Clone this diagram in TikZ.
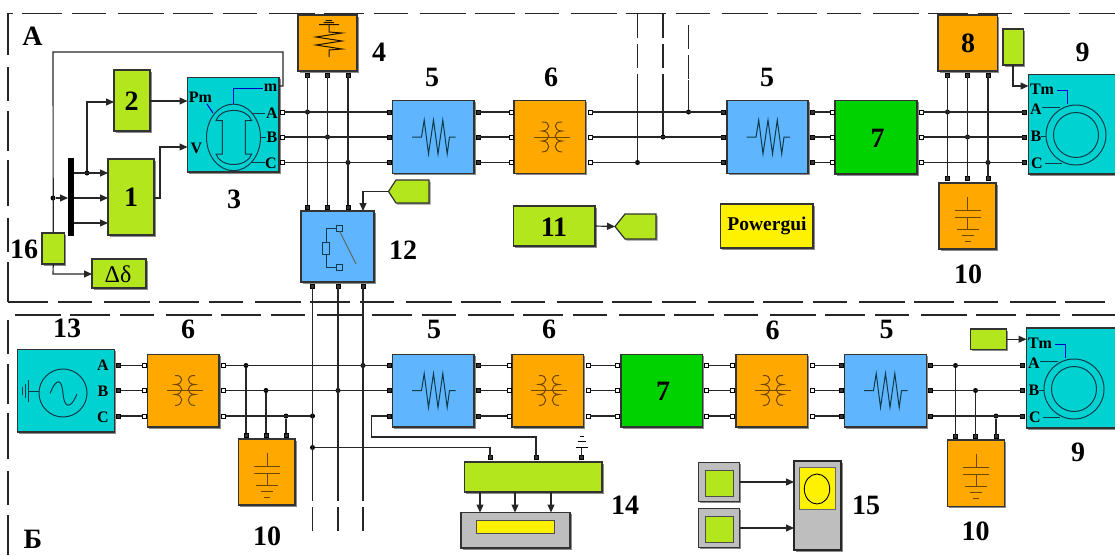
\documentclass[tikz,border=0pt]{standalone}
\usepackage{fontspec}
\setmainfont{Liberation Serif}
\usetikzlibrary{arrows.meta,shadows}
\definecolor{cCyan}{HTML}{00D2D2}
\definecolor{cLime}{HTML}{B4E61E}
\definecolor{cOrange}{HTML}{FFA800}
\definecolor{cBlue}{HTML}{5FB6FF}
\definecolor{cGreen}{HTML}{00D200}
\definecolor{cYellow}{HTML}{FFF200}
\definecolor{cGray}{HTML}{BEBEBE}
\definecolor{cIcon}{HTML}{0E3A4A}
\definecolor{cBrown}{HTML}{6E4600}
\definecolor{cWire}{HTML}{262626}
\tikzset{
  shad/.style={drop shadow={shadow xshift=1.5pt,shadow yshift=-1.5pt,fill=black,opacity=.45}},
  blockst/.style={rectangle,draw=black!80,line width=1.2pt,inner sep=0pt,outer sep=0pt,shad},
  port/.style={rectangle,draw=black,fill=white,line width=1pt,minimum size=4pt,inner sep=0pt,outer sep=0pt},
  bport/.style={rectangle,draw=black,fill=black!80,line width=1pt,minimum size=4pt,inner sep=0pt,outer sep=0pt},
  junct/.style={circle,fill=black,minimum size=5pt,inner sep=0pt,outer sep=0pt},
  wire/.style={draw=cWire,line width=1.15pt},
  awire/.style={wire,-{Triangle[length=8pt,width=7pt]}},
  frameline/.style={draw=black!85,line width=1.1pt,dash pattern=on 40pt off 10pt on 34pt off 12pt on 46pt off 9pt},
  dashwire/.style={wire,dash pattern=on 24pt off 6pt},
  icon/.style={draw=cIcon,line width=1pt},
  brown/.style={draw=cBrown,line width=1pt},
  lab/.style={font=\fontsize{28}{28}\selectfont\bfseries,text=black,inner sep=0pt},
  pin/.style={font=\fontsize{16}{16}\selectfont\bfseries,text=black,inner sep=0pt},
}
\newcommand{\blk}[6]{\node[blockst,fill=#6,minimum width={(#4-#2)*1pt},minimum height={(#5-#3)*1pt}] (#1) at ({(#2+#4)/2},{(#3+#5)/2}) {};}
\newcommand{\prt}[4]{\node[#1] (#2) at (#3,#4) {};}
\newcommand{\rowA}[3]{\prt{#1}{#21}{#3}{112}\prt{#1}{#22}{#3}{137}\prt{#1}{#23}{#3}{162.5}}
\newcommand{\rowB}[3]{\prt{#1}{#21}{#3}{365.5}\prt{#1}{#22}{#3}{390.5}\prt{#1}{#23}{#3}{416}}
\newcommand{\colports}[6]{\prt{#1}{#21}{#4}{#3}\prt{#1}{#22}{#5}{#3}\prt{#1}{#23}{#6}{#3}}
\newcommand{\iconres}[2]{\draw[icon,line join=miter] (#1-21.5,#2)--(#1-12,#2)--(#1-9.3,#2-17)--(#1-5,#2+17)--(#1,#2-17)--(#1+4.5,#2+17)--(#1+9.3,#2-17)--(#1+13.7,#2+17)--(#1+16,#2)--(#1+22,#2);}
\newcommand{\icontrf}[2]{\begin{scope}[shift={(#1,#2)}]
  \draw[brown] (-18,0)--(18,0);
  \draw[brown] (-10,-15) .. controls (-1,-16) and (-1,-6) .. (-10,-6) .. controls (-1,-6) and (-1,4) .. (-10,4) .. controls (-1,4) and (-1,15) .. (-10,15);
  \draw[brown] (10,-15) .. controls (1,-16) and (1,-6) .. (10,-6) .. controls (1,-6) and (1,4) .. (10,4) .. controls (1,4) and (1,15) .. (10,15);
\end{scope}}
\newcommand{\iconcap}[2]{\begin{scope}[shift={(#1,#2)}]
  \draw[brown] (0,14)--(0,27) (-13,27)--(13,27) (-13,34)--(13,34) (0,34)--(0,46) (-11,46)--(11,46) (-6,52)--(6,52) (-3,58)--(3,58);
\end{scope}}
\newcommand{\machine}[3]{\begin{scope}[shift={(#1,#2)}]
  \draw[icon] (0,0) circle (30pt);
  \draw[icon] (0,0) circle (22.5pt);
  \draw[blue!80!black,line width=1pt] (-19,-45)--(-8.5,-45)--(-8.5,-31);
  \draw[icon] (-34,-28)--(-16,-28) (-35,1)--(-30,1) (-31,28)--(-14,28);
  \node[pin] (#3tm) at (-34,-46) {Tm};
  \node[pin] (#3a) at (-40,-26) {A};
  \node[pin] (#3b) at (-40,1) {B};
  \node[pin] (#3c) at (-39,28) {C};
\end{scope}}
\begin{document}
\begin{tikzpicture}[x=1pt,y=-1pt]
\useasboundingbox (0,0) rectangle (1115,555);
% frames
\draw[frameline] (8,302)--(8,13.5)--(1115,13.5);
\draw[frameline] (8,302)--(1115,302);
\draw[frameline] (8,555)--(8,315)--(1115,315);
% ---------- blocks A
\blk{b2}{114}{70}{150}{131}{cLime}
\blk{b1}{108}{159}{154}{235}{cLime}
\node[rectangle,fill=black,minimum width=6pt,minimum height=78pt,inner sep=0pt] (bus) at (71,197) {};
\blk{b16}{42}{233}{64.5}{264}{cLime}
\blk{bdd}{92}{259}{146}{288}{cLime}
\blk{b3}{187.5}{77.5}{279}{172}{cCyan}
\blk{b4}{298}{15}{357}{71}{cOrange}
\blk{b12}{301}{211}{374}{282}{cBlue}
\blk{b5a}{392.5}{100.5}{474}{173.5}{cBlue}
\blk{b6a}{514}{100.5}{585.5}{173.5}{cOrange}
\blk{b5b}{727}{100.5}{808}{173.5}{cBlue}
\blk{b7a}{835}{100.5}{917}{174}{cGreen}
\blk{b8}{938}{15}{997.5}{71}{cOrange}
\blk{b8s}{1003}{29}{1023.5}{65}{cLime}
\blk{b9a}{1028.5}{74.5}{1120}{174}{cCyan}
\blk{b10a}{939}{183}{996}{249}{cOrange}
\blk{b11}{513.5}{206}{595}{246}{cLime}
\blk{bpg}{720.5}{204}{813}{248}{cYellow}
% tags
\draw[draw=black!80,fill=cLime,line width=1.2pt,shad] (388.5,191.5)--(396,180)--(429,180)--(429,203)--(396,203)--cycle;
\coordinate (tagA) at (388.5,191.5);
\draw[draw=black!80,fill=cLime,line width=1.2pt,shad] (615,226.5)--(625,214)--(656,214)--(656,239)--(625,239)--cycle;
\coordinate (tagB) at (615,226.5);
% ---------- blocks Б
\blk{b13}{17.5}{349.5}{114.5}{432}{cCyan}
\blk{b6b}{147.5}{354.5}{219}{427}{cOrange}
\blk{b10b}{238.5}{439}{295}{505}{cOrange}
\blk{b5c}{392.5}{354.5}{474}{427}{cBlue}
\blk{b6c}{512}{354.5}{583.5}{427}{cOrange}
\blk{b7b}{621}{354.5}{702.5}{427}{cGreen}
\blk{b6d}{736}{354.5}{807.5}{427}{cOrange}
\blk{b5d}{844.5}{354.5}{926.5}{427}{cBlue}
\blk{b9b}{1026.5}{328}{1120}{428}{cCyan}
\blk{b10c}{947.5}{440}{1004.5}{506.5}{cOrange}
\blk{b9s}{970.5}{329}{1006.5}{349.5}{cLime}
\blk{b14}{464.5}{462}{602}{492}{cLime}
\blk{b14g}{461}{512.5}{570}{548}{cGray}
\node[rectangle,draw=black!70,fill=cYellow,line width=1pt,minimum width=77.5pt,minimum height=13.5pt,inner sep=0pt] (b14y) at (515.7,527.2) {};
\node[blockst,fill=cGray,draw=black!85,line width=1.8pt,minimum width=47pt,minimum height=89pt] (sc) at (817.5,505.5) {};
\node[rectangle,draw=black!60,fill=cYellow,line width=1pt,minimum width=36pt,minimum height=41.5pt,inner sep=0pt] (scy) at (817,488.7) {};
\draw[black,line width=.9pt] (817,489) ellipse (12.7pt and 15pt);
\blk{c1}{698.5}{462.5}{739.5}{501.5}{cGray}
\node[rectangle,draw=black!70,fill=cLime,line width=1pt,minimum width=28.5pt,minimum height=26pt,inner sep=0pt] (c1i) at (719.7,483) {};
\blk{c2}{698.5}{508.5}{739.5}{547.5}{cGray}
\node[rectangle,draw=black!70,fill=cLime,line width=1pt,minimum width=28.5pt,minimum height=26pt,inner sep=0pt] (c2i) at (719.7,529) {};
% ---------- ports A
\rowA{port}{p3}{282}
\colports{bport}{p4}{75}{307.5}{327.5}{348}
\colports{bport}{p12t}{207}{307.5}{327.5}{348}
\colports{bport}{p12b}{286}{312.5}{338}{363}
\rowA{bport}{p5al}{389}
\rowA{bport}{p5ar}{478}
\rowA{port}{p6al}{511}
\rowA{port}{p6ar}{590}
\rowA{bport}{p5bl}{723.5}
\rowA{bport}{p5br}{812}
\rowA{port}{p7al}{832}
\rowA{port}{p7ar}{921}
\colports{bport}{p8}{75}{947.5}{967.5}{988}
\colports{bport}{p10a}{178.5}{947.5}{967.5}{988}
\rowA{bport}{p9a}{1024.5}
% ---------- ports Б
\rowB{bport}{p13}{118.5}
\rowB{port}{p6bl}{144}
\rowB{port}{p6br}{223.5}
\colports{bport}{p10b}{435}{246}{266}{286}
\rowB{bport}{p5cl}{389}
\rowB{bport}{p5cr}{478}
\rowB{port}{p6cl}{509}
\rowB{port}{p6cr}{588}
\rowB{port}{p7bl}{617.5}
\rowB{port}{p7br}{706.5}
\rowB{port}{p6dl}{732.5}
\rowB{port}{p6dr}{812}
\rowB{bport}{p5dl}{841}
\rowB{bport}{p5dr}{930.5}
\rowB{bport}{p9b}{1022.5}
\colports{bport}{p10c}{436.5}{955.5}{975.5}{996}
\colports{bport}{p14}{457.5}{490}{536}{581.5}
% ---------- junctions
\node[junct] (j1) at (53,198) {};
\node[junct] (j2) at (87,173) {};
\node[junct] (ja1) at (307.5,112) {};
\node[junct] (ja2) at (327.5,137) {};
\node[junct] (ja3) at (348,162.5) {};
\node[junct] (jd3) at (637.5,162.5) {};
\node[junct] (jd2) at (663,137) {};
\node[junct] (jd1) at (688.5,112) {};
\node[junct] (jr1) at (947.5,112) {};
\node[junct] (jr2) at (967.5,137) {};
\node[junct] (jr3) at (988,162.5) {};
\node[junct] (jb1) at (246,365.5) {};
\node[junct] (jb2) at (266,390.5) {};
\node[junct] (jb3) at (286,416) {};
\node[junct] (jb4) at (312.5,416) {};
\node[junct] (jb5) at (312.5,447.5) {};
\node[junct] (jb6) at (338,390.5) {};
\node[junct] (jb7) at (363,365.5) {};
\node[junct] (jc1) at (955.5,365.5) {};
\node[junct] (jc2) at (975.5,390.5) {};
\node[junct] (jc3) at (996,416) {};
% ---------- bend points
\coordinate (m1) at (279,86);\coordinate (m2) at (283,86);\coordinate (m3) at (283,52);\coordinate (m4) at (53,52);
\coordinate (bus1) at (74,173);\coordinate (bus2) at (74,198);\coordinate (bus3) at (74,223);
\coordinate (busin) at (68,198);
\coordinate (u1) at (87,102);
\coordinate (in2) at (114,102);
\coordinate (out2) at (150,101);\coordinate (in3p) at (187.5,101);
\coordinate (o1) at (154,198);\coordinate (o1a) at (160,198);\coordinate (o1b) at (160,147);\coordinate (in3v) at (187.5,147);
\coordinate (d16) at (53,274);\coordinate (in16) at (92,274);
\coordinate (t12) at (363,191.5);\coordinate (t12e) at (363,211);
\coordinate (t8a) at (1013,65);\coordinate (t8b) at (1013,86);\coordinate (t8c) at (1028.5,86);
\coordinate (v1a) at (312.5,477);\coordinate (v1b) at (312.5,536);
\coordinate (v2a) at (338,477);\coordinate (v2b) at (338,533);
\coordinate (v3a) at (363,477);\coordinate (v3b) at (363,534);
\coordinate (d1t) at (637.5,14);\coordinate (d1m) at (637.5,80);
\coordinate (d2t) at (663,14);\coordinate (d2m) at (663,80);
\coordinate (d3t) at (688.5,25);\coordinate (d3m) at (688.5,80);
\coordinate (w1) at (371.5,416);\coordinate (w2) at (371.5,437);\coordinate (w3) at (536,437);
\coordinate (w4) at (490,447.5);
\coordinate (g1) at (581.5,447);
% ---------- wires
\draw[wire] (m1)--(m2)--(m3)--(m4)--(b16.north);
\draw[awire] (j1)--(busin);
\draw[awire] (bus1)--(bus1-|b1.west);
\draw[awire] (bus2)--(bus2-|b1.west);
\draw[awire] (bus3)--(bus3-|b1.west);
\draw[awire] (j2)--(u1)--(in2);
\draw[awire] (out2)--(in3p);
\draw[awire] (o1)--(o1a)--(o1b)--(in3v);
\draw[awire] (b16.south)--(d16)--(in16);
\foreach \i in {1,2,3}{
  \draw[wire] (p3\i)--(p5al\i);
  \draw[wire] (p5ar\i)--(p6al\i);
  \draw[wire] (p6ar\i)--(p5bl\i);
  \draw[wire] (p5br\i)--(p7al\i);
  \draw[wire] (p7ar\i)--(p9a\i);
  \draw[wire] (p4\i)--(p12t\i);
  \draw[wire] (p8\i)--(p10a\i);
  \draw[wire] (p13\i)--(p6bl\i);
  \draw[wire] (p5cr\i)--(p6cl\i);
  \draw[wire] (p6cr\i)--(p7bl\i);
  \draw[wire] (p7br\i)--(p6dl\i);
  \draw[wire] (p6dr\i)--(p5dl\i);
  \draw[wire] (p5dr\i)--(p9b\i);
}
\draw[awire] (tagA)--(t12)--(t12e);
\draw[awire] (b11.east)--(tagB);
\draw[awire] (t8a)--(t8b)--(t8c);
\draw[awire] (b9s.east)--(b9s.east-|b9b.west);
\draw[wire] (p6br1)--(p5cl1);
\draw[wire] (p6br2)--(p5cl2);
\draw[wire] (p6br3)--(jb4);
\draw[wire] (jb1)--(p10b1);
\draw[wire] (jb2)--(p10b2);
\draw[wire] (jb3)--(p10b3);
\draw[wire] (jc1)--(p10c1);
\draw[wire] (jc2)--(p10c2);
\draw[wire] (jc3)--(p10c3);
\draw[wire] (p12b1)--(v1a);
\draw[wire] (p12b2)--(v2a);
\draw[wire] (p12b3)--(v3a);
\draw[dashwire] (v1a)--(v1b);
\draw[dashwire] (v2a)--(v2b);
\draw[dashwire] (v3a)--(v3b);
\draw[dashwire] (d1t)--(d1m);
\draw[dashwire] (d2t)--(d2m);
\draw[dashwire] (d3t)--(d3m);
\draw[wire] (d1m)--(jd3);
\draw[wire] (d2m)--(jd2);
\draw[wire] (d3m)--(jd1);
\draw[wire] (p5cl3)--(w1)--(w2)--(w3)--(p142);
\draw[wire] (jb5)--(w4)--(p141);
\draw[wire] (p143)--(g1);
\draw[icon,draw=black] (575.5,447)--(587.5,447) (577.5,441)--(585.5,441) (579.5,436)--(583.5,436);
\draw[awire] (480,492)--(480,512.5);
\draw[awire] (515,492)--(515,512.5);
\draw[awire] (551,492)--(551,512.5);
\draw[awire] (c1.east)--(c1.east-|sc.west);
\draw[awire] (c2.east)--(c2.east-|sc.west);
% ---------- icons
\iconres{433.5}{137}
\iconres{768}{137}
\iconres{433.5}{390.5}
\iconres{885.5}{390.5}
\icontrf{552}{137}
\icontrf{185}{390.5}
\icontrf{549}{390.5}
\icontrf{773}{390.5}
\iconcap{967.5}{183}
\iconcap{267}{439}
\iconcap{976}{440}
% resistive load 4
\draw[brown,draw=black!70!cBrown] (325.5,20.7)--(332,20.7) (323.5,22.5)--(334,22.5) (319,24.7)--(339,24.7) (329,24.7)--(329,32)--(342,33)--(316,37)--(342,41)--(316,45)--(342,49)--(329,50)--(329,57);
% relay 12
\draw[icon] (337,228.3)--(326,228.3)--(326,242) (326,254)--(326,267)--(337,267);
\draw[icon] (322.5,242) rectangle (329.5,254);
\draw[icon] (336.6,225.2) rectangle (342.8,231.4);
\draw[icon] (336.6,264) rectangle (342.8,270.2);
\draw[icon,draw=black!60] (339.7,231.4)--(356,264);
% synchronous machine 3
\draw[icon] (233.5,137.4) ellipse (27pt and 33.3pt);
\draw[icon] (216,120.7)--(222.3,120.7)--(222.3,154)--(216,154) .. controls (220,168) and (247,168) .. (251.7,154)--(245.3,154)--(245.3,120.7)--(251.7,120.7) .. controls (247,107) and (220,107) .. (216,120.7)--cycle;
\draw[blue!80!black,line width=1pt] (207,104)--(213,113);
\draw[blue!80!black,line width=1pt] (233,104)--(233,88.5)--(263,88.5);
\draw[icon] (253,113)--(265,113) (260.5,137)--(266,137) (251,162)--(265,162);
\node[pin] (lm) at (270.5,87.5) {m};
\node[pin] (lpm) at (200.5,97.5) {Pm};
\node[pin] (lv) at (196.5,148.5) {V};
\node[pin] (la) at (272,113) {A};
\node[pin] (lb) at (272,137.5) {B};
\node[pin] (lc) at (271,163) {C};
% machines 9
\machine{1076}{135}{ma}
\machine{1074}{389}{mb}
% source 13
\draw[icon] (63,393) circle (24pt);
\draw[icon] (50,393.5) .. controls (57,376) and (62,380) .. (63,393.5) .. controls (64,407) and (70,411) .. (77,394);
\draw[icon] (39,391)--(28,391) (28,380)--(28,402) (25.3,384)--(25.3,398) (22.7,387)--(22.7,395);
\node[pin] (sa) at (103,365) {A};
\node[pin] (sb) at (103,391) {B};
\node[pin] (sc2) at (103,417) {C};
% ---------- labels
\node[lab] (tA) at (32.5,36) {А};
\node[lab] (tB) at (33,539) {Б};
\node[lab] (t1) at (131,197.5) {1};
\node[lab] (t2) at (131.5,101) {2};
\node[lab] (t3) at (234,199) {3};
\node[lab] (t4) at (379,52) {4};
\node[lab] (t5a) at (432,77) {5};
\node[lab] (t6a) at (551,77) {6};
\node[lab] (t5b) at (767,77) {5};
\node[lab] (t7a) at (877.5,138) {7};
\node[lab] (t8) at (968,43.5) {8};
\node[lab] (t9a) at (1082.5,52) {9};
\node[lab] (t10a) at (968,274) {10};
\node[lab] (t11) at (554,227) {11};
\node[lab] (t12l) at (403,250) {12};
\node[lab] (t16) at (24,249) {16};
\node[lab] (t13) at (67,328) {13};
\node[lab] (t6b) at (188,329) {6};
\node[lab] (t5c) at (434,329) {5};
\node[lab] (t6c) at (549,329) {6};
\node[lab] (t6d) at (772.5,330) {6};
\node[lab] (t5d) at (886.5,329) {5};
\node[lab] (t7b) at (663,391) {7};
\node[lab] (t9b) at (1078,452) {9};
\node[lab] (t10b) at (267,536) {10};
\node[lab] (t10c) at (975.5,531) {10};
\node[lab] (t14) at (625,505) {14};
\node[lab] (t15) at (866,505) {15};
\node[font=\fontsize{19.5}{20}\selectfont\bfseries,inner sep=0pt] (tpg) at (767,226) {Powergui};
\node[font=\fontsize{24}{24}\selectfont,inner sep=0pt] (tdd) at (118,274) {Δδ};
\end{tikzpicture}
\end{document}
